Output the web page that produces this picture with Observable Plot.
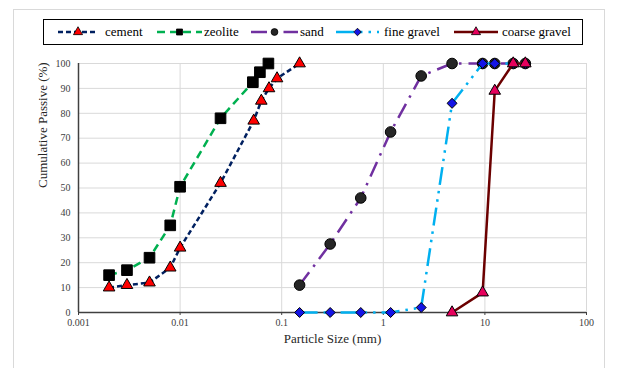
<!DOCTYPE html>
<html><head><meta charset="utf-8">
<script src="https://cdn.jsdelivr.net/npm/d3@7"></script>
<script src="https://cdn.jsdelivr.net/npm/@observablehq/plot@0.6"></script>
<style>
body{margin:0;background:#fff;}
#wrap{position:relative;width:617px;height:368px;overflow:hidden;font-family:'Liberation Serif','Times New Roman',Times,serif;}
#wrap svg text{font-family:'Liberation Serif','Times New Roman',Times,serif;}
#frame{position:absolute;left:13px;top:9px;width:592px;height:380px;border:1px solid #d9d9d9;box-sizing:border-box;}
#chart{position:absolute;left:0;top:0;}
#legend{position:absolute;left:43px;top:19px;width:540px;height:26px;border:1.5px solid #000;box-sizing:border-box;background:#fff;}
.item{position:absolute;top:0;height:100%;display:flex;align-items:center;font-size:13px;color:#000;white-space:nowrap;}
.item svg{display:block;}
</style></head>
<body><div id="wrap"><div id="frame"></div><div id="chart"></div><div id="legend"></div></div>
<script>
// ---- data ----
const seriesNames = ["cement", "zeolite", "sand", "fine gravel", "coarse gravel"];
const cementSize = [0.002, 0.003, 0.005, 0.008, 0.01, 0.025, 0.053, 0.063, 0.075, 0.09, 0.15];
const cementPass = [10, 11, 12, 18, 26, 52, 77, 85, 90, 94, 100];
const zeoliteSize = [0.002, 0.003, 0.005, 0.008, 0.01, 0.025, 0.052, 0.061, 0.074];
const zeolitePass = [15, 17, 22, 35, 50.5, 78, 92.5, 96.5, 100];
const sandSize = [0.15, 0.3, 0.6, 1.18, 2.36, 4.75, 9.5, 12.5, 19, 25];
const sandPass = [11, 27.5, 46, 72.5, 95, 100, 100, 100, 100, 100];
const fineSize = [0.15, 0.3, 0.6, 1.18, 2.36, 4.75, 9.5, 12.5, 19, 25];
const finePass = [0, 0, 0, 0, 2, 84, 100, 100, 100, 100];
const coarseSize = [4.75, 9.5, 12.5, 19, 25];
const coarsePass = [0, 8, 89, 100, 100];
const xTicks = [0.001, 0.01, 0.1, 1, 10, 100];
const xTickLabels = ["0.001", "0.01", "0.1", "1", "10", "100"];
const yTicks = [0, 10, 20, 30, 40, 50, 60, 70, 80, 90, 100];
const xTitle = "Particle Size (mm)";
const yTitle = "Cumulative Passive (%)";

// ---- styles ----
const serif = "'Liberation Serif','Times New Roman',Times,serif";
const styles = [
  {stroke: "#002060", dash: "5,3", symbol: "triangle", fill: "#FF0000", r: 4.3},
  {stroke: "#00B050", dash: "8,5", symbol: "square", fill: "#000000", r: 6},
  {stroke: "#7030A0", dash: "16,7,2.5,7", symbol: "circle", fill: "#262626", r: 5.3},
  {stroke: "#00B0F0", dash: "18,6,2.5,6,2.5,6", symbol: "diamond2", fill: "#1414E6", r: 4.5},
  {stroke: "#6B0000", dash: null, symbol: "triangle", fill: "#E6005C", r: 4.3}
];
const xs = [cementSize, zeoliteSize, sandSize, fineSize, coarseSize];
const ys = [cementPass, zeolitePass, sandPass, finePass, coarsePass];

const marks = [
  Plot.gridX(xTicks.slice(1), {stroke: "#d9d9d9", strokeOpacity: 1, strokeWidth: 1}),
  Plot.gridY(yTicks.slice(1), {stroke: "#d9d9d9", strokeOpacity: 1, strokeWidth: 1}),
  Plot.ruleY([0], {stroke: "#404040", strokeWidth: 1.5}),
  Plot.ruleX([0.001], {stroke: "#404040", strokeWidth: 1.5}),
  Plot.axisX({ticks: xTicks, tickFormat: d => xTickLabels[xTicks.indexOf(d)], tickSize: 3, tickPadding: 3, label: null, stroke: "#404040", fill: "#404040", fontSize: 10, fontFamily: serif}),
  Plot.axisY({ticks: yTicks, tickSize: 0, tickPadding: 8, label: null, fill: "#404040", fontSize: 10, fontFamily: serif}),
  Plot.text([xTitle], {frameAnchor: "bottom", dy: 30, fontSize: 13, fill: "#262626", fontFamily: serif}),
  Plot.text([yTitle], {frameAnchor: "left", dx: -36, rotate: -90, fontSize: 13, fill: "#262626", fontFamily: serif})
];
seriesNames.forEach((name, k) => {
  const data = xs[k].map((x, i) => ({x, y: ys[k][i]}));
  const s = styles[k];
  marks.push(Plot.line(data, {x: "x", y: "y", stroke: s.stroke, strokeWidth: 2.5, strokeDasharray: s.dash || undefined, strokeLinecap: "butt"}));
  marks.push(Plot.dot(data, {x: "x", y: "y", symbol: s.symbol, r: s.r, fill: s.fill, stroke: "#000", strokeWidth: 1}));
});

const chart = Plot.plot({
  width: 617, height: 368,
  marginTop: 63, marginBottom: 56, marginLeft: 78, marginRight: 31,
  style: {background: "transparent", fontFamily: serif, fontSize: "10px", overflow: "visible"},
  x: {type: "log", domain: [0.001, 100]},
  y: {domain: [0, 100]},
  marks
});
document.getElementById("chart").appendChild(chart);

// ---- legend ----
const legendLayout = [[14, 40, 7], [113, 45, 2], [207, 47, 2], [292, 43, 5], [410, 44, 4]];
const legend = d3.select("#legend");
seriesNames.forEach((name, k) => {
  const s = styles[k];
  const [left, w, gap] = legendLayout[k];
  const item = legend.append("div").attr("class", "item").style("left", left + "px");
  const svg = item.append("svg").attr("width", w).attr("height", 14);
  svg.append("line").attr("x1", 0).attr("x2", w).attr("y1", 7).attr("y2", 7)
    .attr("stroke", s.stroke).attr("stroke-width", 2.5)
    .attr("stroke-dasharray", s.dash || null);
  const symMap = {triangle: d3.symbolTriangle, square: d3.symbolSquare, circle: d3.symbolCircle, diamond2: d3.symbolDiamond2};
  svg.append("path").attr("d", d3.symbol(symMap[s.symbol], 36)())
    .attr("transform", `translate(${w / 2},7)`)
    .attr("fill", s.fill).attr("stroke", "#000").attr("stroke-width", 0.8);
  item.append("span").style("margin-left", gap + "px").text(name);
});
</script>
</body></html>
